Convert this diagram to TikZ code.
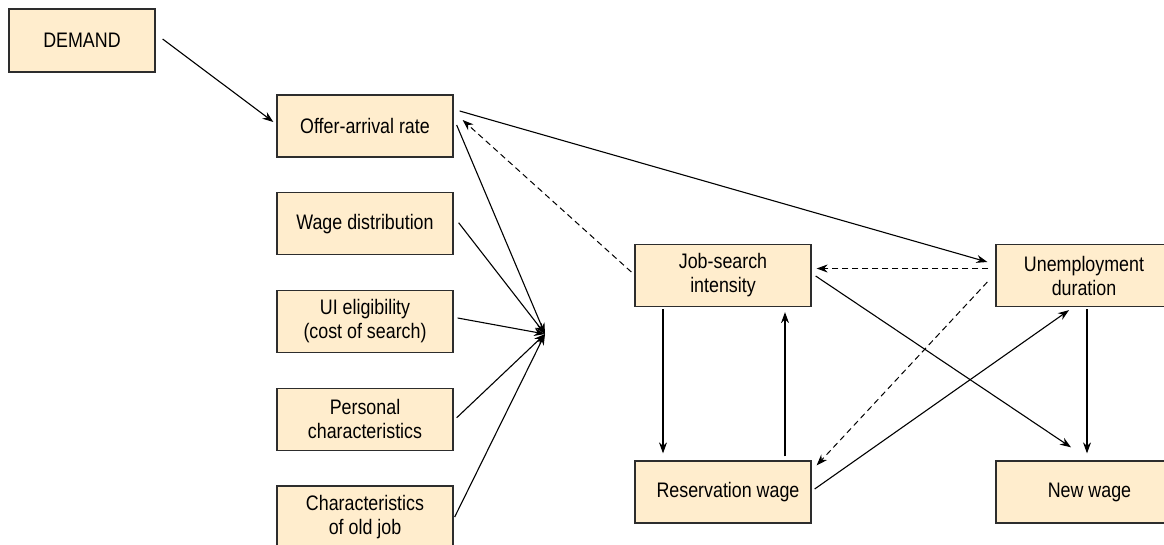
\documentclass[tikz,border=0pt]{standalone}
\usepackage{fontspec}
\setmainfont{Liberation Sans}[FakeStretch=0.85]
\usetikzlibrary{arrows.meta}
\definecolor{boxfill}{RGB}{255,237,205}
\definecolor{boxline}{RGB}{45,45,45}

\begin{document}
\begin{tikzpicture}[x=1pt,y=-1pt,->,>={Stealth[length=11pt,width=8pt]},line width=1.1pt,node distance=97.75pt,
    box/.style={draw=boxline,line width=1.3pt,fill=boxfill,minimum width=176pt,minimum height=62pt,
      align=center,font=\fontsize{21}{24}\selectfont,inner sep=0pt},
    dashedge/.style={line width=1pt,dash pattern=on 6pt off 4pt}]
  \useasboundingbox (0,0) rectangle (1164,544);
  \node[box,minimum width=146pt,minimum height=63pt] (demand) at (82,40.5) {DEMAND};
  \node[box] (offer) at (365,126)      {Offer-arrival rate};
  \node[box] (wage)     [below of=offer]    {Wage distribution};
  \node[box] (ui)       [below of=wage]     {UI eligibility\\(cost of search)};
  \node[box] (personal) [below of=ui]       {Personal\\characteristics};
  \node[box] (oldjob)   [below of=personal] {Characteristics\\of old job};
  \node[box] (search) at (723,275.5)   {Job-search\\intensity};
  \node[box] (unemp)    [right of=search,node distance=361pt]  {Unemployment\\duration};
  \node[box] (reswage)  [below of=search,node distance=216.5pt] {\hspace{10pt}Reservation wage};
  \node[box] (newwage)  [right of=reswage,node distance=361pt] {\hspace{11pt}New wage};
  \coordinate (hub) at (545,334);

  % into the offer-arrival rate
  \draw ([xshift=7pt,yshift=1.5pt]demand.east) -- ([xshift=-3pt,yshift=4pt]offer.west);
  \draw[dashedge] ([xshift=-3pt,yshift=3.5pt]search.west) -- ([xshift=9pt,yshift=6pt]offer.east);

  % everything that meets at the hub
  \draw ([xshift=3pt,yshift=1pt]offer.east) -- (hub);
  \draw ([xshift=5pt,yshift=1pt]wage.east) -- (hub);
  \draw ([xshift=4pt,yshift=3.5pt]ui.east) -- (hub);
  \draw ([xshift=3pt,yshift=1.5pt]personal.east) -- (hub);
  \draw ([xshift=1pt]oldjob.east) -- (hub);

  % right-hand block
  \draw ([xshift=6pt,yshift=15pt]offer.east) -- ([xshift=-8pt,yshift=13.5pt]unemp.west);
  \draw[dashedge] ([xshift=-7pt,yshift=7pt]unemp.west) -- ([xshift=5pt,yshift=7pt]search.east);
  \draw[dashedge] ([xshift=-8pt,yshift=-6.5pt]unemp.west) -- ([xshift=5pt,yshift=-5pt]reswage.north east);
  \draw ([xshift=4pt,yshift=-0.5pt]search.east) -- ([xshift=-13pt,yshift=13pt]newwage.north);
  \draw ([xshift=3pt,yshift=-2pt]unemp.south) -- ([xshift=3pt,yshift=7pt]newwage.north);
  \draw ([xshift=3pt,yshift=3pt]reswage.east) -- ([xshift=-15pt,yshift=-3pt]unemp.south);
  \draw ([xshift=-60pt,yshift=-2pt]search.south) -- ([xshift=-60pt,yshift=7pt]reswage.north);
  \draw ([xshift=62pt,yshift=4pt]reswage.north) -- ([xshift=62pt,yshift=-5pt]search.south);
\end{tikzpicture}
\end{document}
